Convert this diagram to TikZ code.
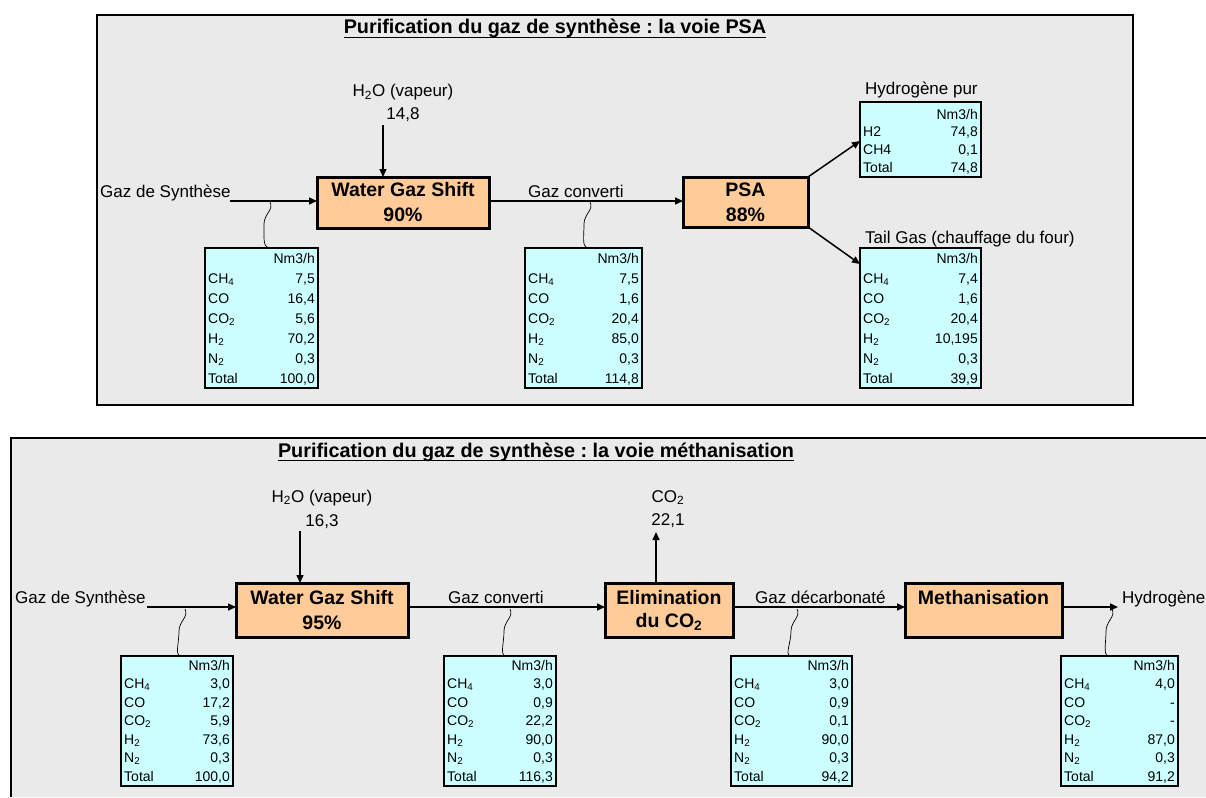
\documentclass[tikz,border=0pt]{standalone}
\usepackage{fontspec}
\setmainfont{Liberation Sans}
\usetikzlibrary{arrows.meta,calc}
\definecolor{panelgray}{HTML}{EAEAEA}
\definecolor{procorange}{HTML}{FFCC99}
\definecolor{tabcyan}{HTML}{CCFFFF}
\newcommand{\sbs}[1]{\textsubscript{#1}}
\newcommand{\fsz}[2]{\fontsize{#1}{#2}\selectfont}
\frenchspacing
\tikzset{
 panel/.style={fill=panelgray, draw=black, line width=2pt},
 proc/.style={draw=black, fill=procorange, line width=3pt, inner sep=0pt, outer sep=0pt, align=center, font=\bfseries\fsz{19.5}{25}},
 tabbox/.style={draw=black, fill=tabcyan, line width=2.2pt, inner sep=0pt, outer sep=0pt, anchor=north west},
 tabtxt/.style={inner sep=0pt, font=\fsz{14}{16}},
 lbl/.style={inner sep=0pt, font=\fsz{17}{20}},
 ttl/.style={inner sep=0pt, font=\bfseries\fsz{19.8}{24}},
 flow/.style={line width=1.5pt, -{Triangle[length=8pt,width=7pt]}},
 squigline/.style={line width=0.7pt},
}
% table: #1 name, #2 x, #3 y, #4 width, #5 height, #6 row spacing, #7 first baseline offset, #8 rows
\newcommand{\gtab}[8]{%
  \node[tabbox, minimum width=#4pt, minimum height=#5pt] (#1) at (#2,#3) {};
  \node[tabtxt, anchor=base east] (#1-h) at ($(#1.north east)+(-3,#7)$) {Nm3/h};
  \foreach [count=\i] \a/\b in {#8} {
    \node[tabtxt, anchor=base west] (#1-l\i) at ($(#1.north west)+(3,\i*#6+#7)$) {\a};
    \node[tabtxt, anchor=base east] (#1-v\i) at ($(#1.north east)+(-3,\i*#6+#7)$) {\b};
  }
}
% squiggle: #1 top coordinate, #2 table node, #3 dx of bottom end
\newcommand{\squig}[3]{%
  \coordinate (#1e) at (#1 |- #2.north);
  \draw[squigline] (#1) .. controls +(4,8) and +(0,-10) .. ($(#1)+(-6,22)$)
    .. controls +(0,12) and +(-5,-2) .. ($(#1e)+(#3,0)$);
}
\begin{document}
\begin{tikzpicture}[x=1pt,y=-1pt]
\useasboundingbox (0,0) rectangle (1206,797);
% ---------- top panel ----------
\draw[panel] (97,15) rectangle (1133,405);
\node[ttl, anchor=base] (title1) at (555,34) {Purification du gaz de synthèse : la voie PSA};
\draw[line width=1.8pt] ($(title1.base west)+(0,3.5)$) -- ($(title1.base east)+(0,3.5)$);

\node[proc, minimum width=172pt, minimum height=51pt] (wgs1) at (403,202.5) {Water Gaz Shift\\90\%};
\node[proc, minimum width=125pt, minimum height=50pt] (psa) at (745.5,202) {PSA\\88\%};

\node[lbl, anchor=base] (h2o1) at (403,97) {H\sbs{2}O (vapeur)};
\node[lbl, anchor=base] (h2o1v) at (403,119) {14,8};
\coordinate (h2o1a) at (383,125);
\draw[flow] (h2o1a) -- (h2o1a |- wgs1.north);

\node[lbl, anchor=base west] (gs1) at (100,197) {Gaz de Synthèse};
\coordinate (gin1) at (230,201);
\draw[flow] (gin1) -- (gin1 -| wgs1.west);
\node[lbl, anchor=base west] (gc1) at (528,197) {Gaz converti};
\draw[flow] (wgs1.east |- gin1) -- (psa.west |- gin1);

\gtab{t1}{205}{248}{113}{140}{20}{15}{CH\sbs{4}/{7,5}, CO/{16,4}, CO\sbs{2}/{5,6}, H\sbs{2}/{70,2}, N\sbs{2}/{0,3}, Total/{100,0}}
\gtab{t2}{525}{248}{117}{140}{20}{15}{CH\sbs{4}/{7,5}, CO/{1,6}, CO\sbs{2}/{20,4}, H\sbs{2}/{85,0}, N\sbs{2}/{0,3}, Total/{114,8}}
\gtab{th}{860}{102}{121}{75}{17.7}{17}{H2/{74,8}, CH4/{0,1}, Total/{74,8}}
\gtab{tg}{860}{248}{121}{140}{20}{15}{CH\sbs{4}/{7,4}, CO/{1,6}, CO\sbs{2}/{20,4}, H\sbs{2}/{10,195}, N\sbs{2}/{0,3}, Total/{39,9}}

\node[lbl, anchor=base west] (hp) at (865,95) {Hydrogène pur};
\node[lbl, anchor=base west] (tgl) at (865,243) {Tail Gas (chauffage du four)};
\draw[flow] (psa.north east) -- ($(th.north west)+(0,39)$);
\draw[flow] (psa.south east) -- ($(tg.north west)+(0,16)$);

\coordinate (sa1) at (270,202);
\squig{sa1}{t1}{-2}
\coordinate (sa2) at (590,202);
\squig{sa2}{t2}{-3}

% ---------- bottom panel ----------
\fill[panelgray] (11,438) rectangle (1206,797);
\draw[line width=2pt] (11,797) -- (11,438) -- (1206,438);
\node[ttl, anchor=base] (title2) at (536,457) {Purification du gaz de synthèse : la voie méthanisation};
\draw[line width=1.8pt] ($(title2.base west)+(0,3.5)$) -- ($(title2.base east)+(0,3.5)$);

\node[proc, minimum width=172pt, minimum height=54pt] (wgs2) at (322,610) {Water Gaz Shift\\95\%};
\node[proc, minimum width=128pt, minimum height=54pt, font=\bfseries\fsz{19.5}{23}] (elim) at (669,610) {Elimination\\du CO\sbs{2}};
\node[proc, minimum width=157pt, minimum height=54pt] (meth) at (983.5,610) {Methanisation\\\mbox{}};

\node[lbl, anchor=base] (h2o2) at (322,502) {H\sbs{2}O (vapeur)};
\node[lbl, anchor=base] (h2o2v) at (322,526) {16,3};
\coordinate (h2o2a) at (300,531);
\draw[flow] (h2o2a) -- (h2o2a |- wgs2.north);

\node[lbl, anchor=base] (co2l) at (668,502) {CO\sbs{2}};
\node[lbl, anchor=base] (co2v) at (668,525) {22,1};
\coordinate (co2a) at (656,532);
\draw[flow] (co2a |- elim.north) -- (co2a);

\node[lbl, anchor=base west] (gs2) at (15,603) {Gaz de Synthèse};
\coordinate (gin2) at (147,607);
\draw[flow] (gin2) -- (gin2 -| wgs2.west);
\node[lbl, anchor=base west] (gc2) at (448,603) {Gaz converti};
\draw[flow] (wgs2.east |- gin2) -- (elim.west |- gin2);
\node[lbl, anchor=base west] (gd2) at (755,603) {Gaz décarbonaté};
\draw[flow] (elim.east |- gin2) -- (meth.west |- gin2);
\node[lbl, anchor=base west] (hy2) at (1122,603) {Hydrogène};
\coordinate (hout) at (1118,607);
\draw[flow] (meth.east |- gin2) -- (hout);

\gtab{b1}{121}{656}{112}{130}{18.5}{14}{CH\sbs{4}/{3,0}, CO/{17,2}, CO\sbs{2}/{5,9}, H\sbs{2}/{73,6}, N\sbs{2}/{0,3}, Total/{100,0}}
\gtab{b2}{444}{656}{112}{130}{18.5}{14}{CH\sbs{4}/{3,0}, CO/{0,9}, CO\sbs{2}/{22,2}, H\sbs{2}/{90,0}, N\sbs{2}/{0,3}, Total/{116,3}}
\gtab{b3}{731}{656}{121}{130}{18.5}{14}{CH\sbs{4}/{3,0}, CO/{0,9}, CO\sbs{2}/{0,1}, H\sbs{2}/{90,0}, N\sbs{2}/{0,3}, Total/{94,2}}
\gtab{b4}{1061}{656}{117}{130}{18.5}{14}{CH\sbs{4}/{4,0}, CO/{-}, CO\sbs{2}/{-}, H\sbs{2}/{87,0}, N\sbs{2}/{0,3}, Total/{91,2}}

\coordinate (sb1) at (185,609);
\squig{sb1}{b1}{-5}
\coordinate (sb2) at (510,609);
\squig{sb2}{b2}{-5}
\coordinate (sb3) at (797,609);
\squig{sb3}{b3}{-7}
\coordinate (sb4) at (1112,609);
\squig{sb4}{b4}{-4}
\end{tikzpicture}
\end{document}
